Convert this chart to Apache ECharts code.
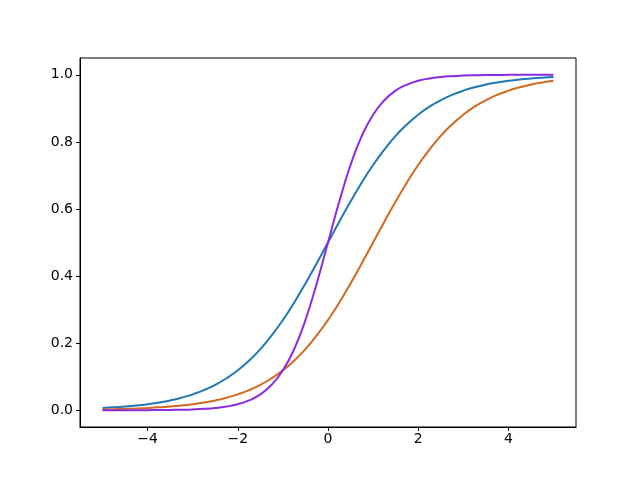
<!DOCTYPE html>
<html>
<head>
<meta charset="utf-8">
<script src="https://cdn.jsdelivr.net/npm/echarts@6/dist/echarts.min.js"></script>
<style>
  html, body { margin: 0; padding: 0; background: #fff; }
  #chart { width: 640px; height: 480px; }
</style>
</head>
<body>
<div id="chart"></div>
<script>
// x positions, every 0.25
var xs = [-5, -4.75, -4.5, -4.25, -4, -3.75, -3.5, -3.25, -3, -2.75, -2.5, -2.25, -2, -1.75, -1.5, -1.25, -1, -0.75, -0.5, -0.25,
  0, 0.25, 0.5, 0.75, 1, 1.25, 1.5, 1.75, 2, 2.25, 2.5, 2.75, 3, 3.25, 3.5, 3.75, 4, 4.25, 4.5, 4.75, 5];

var blueVals = [0.0067, 0.0086, 0.0110, 0.0140, 0.0180, 0.0230, 0.0293, 0.0374, 0.0474, 0.0601, 0.0759, 0.0953, 0.119, 0.148, 0.182, 0.223, 0.269, 0.321, 0.378, 0.438,
  0.500, 0.562, 0.622, 0.679, 0.731, 0.777, 0.818, 0.852, 0.881, 0.905, 0.924, 0.940, 0.9526, 0.9626, 0.9707, 0.9770, 0.9820, 0.9860, 0.9890, 0.9914, 0.9933];

var orangeVals = [0.0025, 0.0032, 0.0041, 0.0052, 0.0067, 0.0086, 0.0110, 0.0140, 0.0180, 0.0230, 0.0293, 0.0374, 0.0474, 0.0601, 0.0759, 0.0953, 0.119, 0.148, 0.182, 0.223,
  0.269, 0.321, 0.378, 0.438, 0.500, 0.562, 0.622, 0.679, 0.731, 0.777, 0.818, 0.852, 0.881, 0.905, 0.924, 0.940, 0.9526, 0.9626, 0.9707, 0.9770, 0.9820];

var purpleVals = [0.0000, 0.0001, 0.0001, 0.0002, 0.0003, 0.0006, 0.0009, 0.0015, 0.0025, 0.0041, 0.0067, 0.0110, 0.0180, 0.0293, 0.0474, 0.0759, 0.119, 0.182, 0.269, 0.378,
  0.500, 0.622, 0.731, 0.818, 0.881, 0.9241, 0.9526, 0.9707, 0.9820, 0.9890, 0.9933, 0.9959, 0.9975, 0.9985, 0.9991, 0.9994, 0.9997, 0.9998, 0.9999, 0.9999, 1.0000];

var xTicks = [-4, -2, 0, 2, 4];
var yTicks = [0, 0.2, 0.4, 0.6, 0.8, 1.0];

function pairs(vals) {
  var out = [];
  for (var i = 0; i < xs.length; i++) {
    out.push([xs[i], vals[i]]);
  }
  return out;
}

function line(vals, color) {
  return {
    type: 'line',
    data: pairs(vals),
    smooth: true,
    showSymbol: false,
    silent: true,
    lineStyle: { color: color, width: 2 },
    itemStyle: { color: color }
  };
}

var myChart = echarts.init(document.getElementById('chart'));
myChart.setOption({
  animation: false,
  backgroundColor: '#ffffff',
  grid: {
    left: 80, right: 64, top: 58, bottom: 53,
    show: true, borderColor: '#000', borderWidth: 1, backgroundColor: 'transparent'
  },
  xAxis: {
    type: 'value',
    min: -5.5, max: 5.5,
    axisLine: { show: true, onZero: false, lineStyle: { color: '#000', width: 1 } },
    splitLine: { show: false },
    axisTick: { show: true, customValues: xTicks, length: 4, inside: false, lineStyle: { color: '#000', width: 1 } },
    axisLabel: {
      customValues: xTicks, color: '#000', fontSize: 14, fontFamily: 'DejaVu Sans', margin: 5,
      formatter: function (v) { return v < 0 ? '\u2212' + Math.abs(v) : String(v); }
    }
  },
  yAxis: {
    type: 'value',
    min: -0.05, max: 1.05,
    axisLine: { show: true, onZero: false, lineStyle: { color: '#000', width: 1 } },
    splitLine: { show: false },
    axisTick: { show: true, customValues: yTicks, length: 4, inside: false, lineStyle: { color: '#000', width: 1 } },
    axisLabel: {
      customValues: yTicks, color: '#000', fontSize: 14, fontFamily: 'DejaVu Sans', margin: 7,
      formatter: function (v) { return v.toFixed(1); }
    }
  },
  series: [
    line(blueVals, '#1f77b4'),
    line(orangeVals, '#d2691e'),
    line(purpleVals, '#8a2be2')
  ]
});
</script>
</body>
</html>
